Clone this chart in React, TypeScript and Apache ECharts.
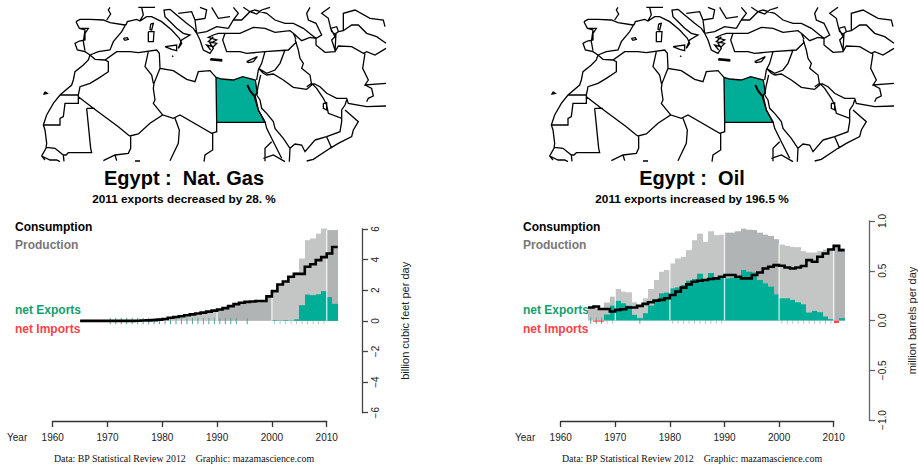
import React, { useEffect, useRef } from "react";
import * as echarts from "echarts";

const years = [1965,1966,1967,1968,1969,1970,1971,1972,1973,1974,1975,1976,1977,1978,1979,1980,1981,1982,1983,1984,1985,1986,1987,1988,1989,1990,1991,1992,1993,1994,1995,1996,1997,1998,1999,2000,2001,2002,2003,2004,2005,2006,2007,2008,2009,2010,2011];
const endYear = 2012;

const gasConsumption = [0,0,0,0,0,0,0,0,0,0,0.01,0.02,0.03,0.05,0.08,0.12,0.2,0.25,0.3,0.37,0.42,0.48,0.54,0.6,0.67,0.74,0.83,0.96,1.09,1.18,1.24,1.26,1.3,1.3,1.6,1.94,2.37,2.57,2.88,3.07,3.07,3.53,3.7,3.97,4.16,4.4,4.82];
const gasProduction = [0,0,0,0,0,0,0,0,0,0,0.01,0.02,0.03,0.05,0.08,0.12,0.2,0.25,0.3,0.37,0.42,0.48,0.54,0.6,0.67,0.74,0.83,0.96,1.09,1.18,1.24,1.26,1.3,1.3,1.6,1.98,2.39,2.61,2.9,3.17,4.07,5.27,5.38,5.7,6.03,5.93,5.93];
const gasExports = [0,0,0,0,0,0,0,0,0,0,0,0,0,0,0,0,0,0,0,0,0,0,0,0,0,0,0,0,0,0,0,0,0,0,0,0.04,0.02,0.04,0.02,0.1,1.02,1.72,1.68,1.74,1.94,1.55,1.11];
const gasImports: number[] = years.map(() => 0);
const gasRugExport = [1970,1971,1972,1973,1974,1975,1976,1977,1978,1979,1980,1981,1982,1983,1984,1985,1986,1987,1988,1989,1990,1991,1992,1993,1995];
const gasRugNeutral = [2000,2001,2002,2003,2004,2005,2006,2007,2008,2009];

const oilConsumption = [0.13,0.14,0.115,0.115,0.09,0.107,0.113,0.13,0.13,0.147,0.167,0.183,0.2,0.207,0.223,0.257,0.29,0.33,0.363,0.39,0.4,0.407,0.417,0.423,0.44,0.457,0.457,0.44,0.423,0.423,0.457,0.483,0.523,0.54,0.557,0.55,0.533,0.523,0.533,0.547,0.607,0.59,0.64,0.673,0.713,0.75,0.707];
const oilProduction = [0.11,0.12,0.11,0.18,0.24,0.317,0.29,0.283,0.183,0.157,0.223,0.317,0.407,0.49,0.507,0.573,0.623,0.64,0.707,0.807,0.873,0.79,0.897,0.857,0.863,0.883,0.883,0.897,0.923,0.913,0.91,0.883,0.863,0.85,0.817,0.763,0.75,0.74,0.737,0.697,0.683,0.683,0.697,0.713,0.723,0.733,0.723];
const oilExports = [0,0,0,0.06,0.15,0.197,0.173,0.15,0.057,0.023,0.073,0.15,0.207,0.273,0.28,0.323,0.333,0.357,0.4,0.417,0.47,0.413,0.477,0.43,0.43,0.423,0.43,0.44,0.507,0.49,0.483,0.407,0.373,0.34,0.263,0.223,0.223,0.207,0.183,0.163,0.08,0.097,0.083,0.04,0.013,0,0.023];
const oilImports = [0,-0.012,-0.012,0,0,0,0,0,0,0,0,0,0,0,0,0,0,0,0,0,0,0,0,0,0,0,0,0,0,0,0,0,0,0,0,0,0,0,0,0,0,0,0,0,0,-0.025,0];
const oilRugExport = [1965,1966,1967,1974];
const oilRugNeutral = [1968,1969,1980,1981,1982,1983,1984,1985,1986,1987,1988,1989,2000,2001,2002,2003,2004,2005,2006,2007,2008,2009];

const decades = [1970, 1980, 1990, 2000, 2010];
const darkDecades = [1990, 2010];
const xTickLabels = [1960, 1970, 1980, 1990, 2000, 2010];

const teal = "#00ad96";
const shadeDark = "#b1b4b4";
const shadeLight = "#c4c6c6";
const shadeEarly = "#bec0c0";

type Pt = [number, number];
const mapLines: Pt[][] = [
  // Iberia and west Europe
  [[228,65],[240,58],[270,58],[310,60],[330,68],[375,75]],
  [[378,72],[365,95],[340,125],[330,150],[295,155],[270,165]],
  [[228,65],[238,85],[265,85],[255,100],[255,120],[238,123],[225,130],[232,150],[255,155],[270,165]],
  [[238,85],[255,90],[250,125],[255,152]],
  [[330,22],[325,30],[332,42],[320,60]],
  [[378,75],[382,65],[410,58],[420,63],[440,50],[455,50],[485,65],[515,90],[538,115],[545,130],[535,145],[545,120],[570,105],[550,100],[530,85],[515,70],[495,50],[492,30],[510,28]],
  [[425,22],[430,45],[420,62]],
  [[415,22],[465,22]],
  // Balkans and Greece
  [[510,28],[530,45],[560,70],[580,85],[590,100],[600,120],[610,150],[630,160],[640,145],[630,130],[650,120],[625,112],[640,105],[655,100],[675,100]],
  [[535,40],[575,35],[585,60],[615,55],[620,30],[600,22]],
  [[585,60],[590,100],[620,95],[650,80],[685,85]],
  [[635,22],[655,55],[690,50]],
  [[640,110],[625,125],[650,130],[640,140],[620,135],[632,150]],
  [[700,22],[715,40],[700,60]],
  // Turkey, Black Sea, Caucasus
  [[675,100],[720,100],[760,82],[795,85],[825,97],[870,92],[880,100],[888,118]],
  [[675,100],[668,120],[680,155],[720,155],[740,160],[795,155],[865,150],[890,125]],
  [[685,85],[700,60],[725,60],[750,35],[765,30],[800,40],[825,60],[855,70],[880,70],[910,85],[935,105],[948,115]],
  [[730,22],[750,35],[770,42],[785,30],[810,22]],
  [[880,100],[905,122],[930,112],[948,115]],
  // Caspian, Central Asia
  [[930,22],[920,40],[925,60],[948,70],[965,105],[948,115],[948,135],[975,157],[1005,155],[1008,100]],
  [[990,22],[965,40],[985,55],[992,85],[1005,110],[995,120],[1005,150]],
  [[992,85],[1010,80],[1015,95],[1005,102],[995,95],[992,85]],
  [[1030,92],[1030,40],[1065,30],[1110,55],[1150,60],[1155,80]],
  [[1015,95],[1030,92],[1055,75],[1075,75],[1100,100],[1130,110],[1158,130]],
  [[1005,155],[1015,138],[1055,140],[1090,160],[1100,155],[1125,165],[1158,145]],
  [[1095,160],[1088,205],[1105,240],[1095,255],[1158,250]],
  [[1100,305],[1105,295],[1120,288],[1115,265],[1095,255]],
  [[940,250],[960,260],[980,280],[1010,295],[1040,295],[1045,310],[1100,320],[1158,318]],
  // Iraq, Levant
  [[885,118],[895,150],[900,175],[910,190],[905,205],[930,225],[935,255],[920,268]],
  [[855,150],[840,190],[825,210],[800,220],[775,205]],
  [[795,155],[785,190],[775,210],[770,240]],
  [[775,205],[790,220],[800,225],[820,222],[850,240],[880,262],[920,268]],
  [[782,225],[775,255],[770,285]],
  // Arabia
  [[770,285],[780,300],[785,325],[800,340],[820,365],[825,385],[850,415],[870,445],[868,485]],
  [[765,285],[775,330],[795,365],[800,385],[820,425],[845,475]],
  [[795,484],[795,445],[815,425]],
  [[790,475],[820,465],[855,485]],
  [[920,260],[935,250],[950,265],[970,295],[980,315],[985,340],[1025,355],[1025,330],[1035,315],[1040,300]],
  [[970,310],[980,308],[980,330],[970,325],[970,310]],
  [[1035,330],[1075,365],[1060,390],[1055,410],[1015,430],[990,445],[940,478],[920,483]],
  [[945,420],[980,410],[1020,395],[1025,365],[1025,355]],
  [[980,410],[995,445]],
  [[870,445],[885,432],[905,435],[915,455],[945,420]],
  // North Africa
  [[220,240],[215,255],[180,285],[160,310],[140,345],[130,375],[135,390],[140,430],[138,445],[125,468],[135,480]],
  [[180,285],[235,285],[235,310],[195,310],[190,350],[180,355],[180,375],[130,375]],
  [[235,285],[240,260],[270,250],[295,235],[325,215],[325,185],[315,180]],
  [[270,165],[285,178],[315,180],[350,155],[390,155],[415,158],[470,150],[478,160],[480,205],[520,212],[560,238],[585,245],[595,215],[630,212],[648,232]],
  [[270,165],[265,180],[250,195],[225,215],[220,240]],
  [[445,155],[435,200],[455,225],[460,250]],
  [[480,205],[462,250],[460,265],[465,300],[460,310],[480,335],[488,345]],
  [[235,290],[280,325],[355,380],[385,405],[390,408],[415,402],[450,370],[488,345],[520,355],[540,345],[635,400],[650,395],[650,367]],
  [[260,325],[285,325]],
  [[260,325],[272,445],[275,458],[205,458],[198,465],[190,465],[165,445],[140,442]],
  [[392,408],[392,445],[385,460],[345,465],[310,482]],
  [[525,355],[538,390],[535,430],[510,482]],
  [[638,400],[638,450],[615,465],[612,485]],
  [[345,465],[350,482]],
  [[190,465],[192,484]],
  [[125,468],[150,480],[170,480],[180,485]],
  [[405,483],[420,483]],
  // Islands
  [[135,275],[142,280],[132,282],[135,275]],
  [[495,140],[530,135],[530,152],[515,148],[495,140]],
  [[445,95],[462,95],[460,125],[445,125],[445,95]],
  [[452,72],[460,70],[455,90],[450,88],[452,72]],
  [[370,115],[382,113],[385,118],[375,121],[370,115]],
  [[632,176],[665,179],[665,183],[632,180],[632,176]],
  [[740,185],[772,170],[760,185],[745,188],[740,185]],
  [[516,167],[520,170]],
];
const egyptOutline: Pt[] = [[648,232],[665,237],[700,240],[728,230],[766,240],[772,280],[762,287],[775,330],[795,367],[650,367]];
const suezGulf: Pt[] = [[742,255],[750,272],[762,287]];

const mapPathData = mapLines
  .map((line) => line.map((p, i) => `${i === 0 ? "M" : "L"}${(p[0] / 3).toFixed(2)} ${(p[1] / 3).toFixed(2)}`).join(" "))
  .join(" ");
echarts.graphic.registerShape("mapOutline", echarts.graphic.extendPath(mapPathData, {}));

const mapOffsets = [0, 508];
const titles = ["Egypt :  Nat. Gas", "Egypt :  Oil"];
const subtitles = ["2011 exports decreased by 28. %", "2011 exports increased by 196.5 %"];
const footers = ["Data: BP Statistical Review 2012    Graphic: mazamascience.com", "Data: BP Statistical Review 2012    Graphic: mazamascience.com"];
const legendEntries = ["Consumption", "Production", "net Exports", "net Imports"];
const legendColors = ["#000000", "#777777", "#12a070", "#f8434a"];
const legendY = [227, 245, 310, 329];

function mapElements(dx: number) {
  const place = (points: Pt[]) => points.map((p) => [p[0] / 3 + dx, p[1] / 3]);
  return [
    { type: "polygon", z: 50, shape: { points: place(egyptOutline) }, style: { fill: teal, stroke: "#000", lineWidth: 1.3 } },
    { type: "polyline", z: 51, shape: { points: place(suezGulf) }, style: { fill: "none", stroke: "#000", lineWidth: 2 } },
    { type: "mapOutline", z: 52, x: dx, y: 0, style: { fill: "none", stroke: "#000", lineWidth: 1.3 } },
  ];
}

function textEl(text: string, x: number, y: number, size: number, color: string, weight: string, align: string, family = "'Liberation Sans', Arial, sans-serif") {
  return {
    type: "text",
    x,
    y,
    style: { text, fill: color, fontSize: size, fontWeight: weight, fontFamily: family, textAlign: align, textVerticalAlign: "middle" },
  };
}

function shade(year: number) {
  const decade = Math.floor(year / 10) * 10;
  if (darkDecades.includes(decade)) return shadeDark;
  if (decade === 1960) return shadeEarly;
  return shadeLight;
}

function barSeries(name: string, idx: number, values: number[], color: string | null, z: number) {
  return {
    name,
    type: "custom",
    xAxisIndex: idx,
    yAxisIndex: idx,
    z,
    silent: true,
    data: values.map((v, i) => [years[i], v]),
    renderItem: (_p: any, api: any) => {
      const y = api.value(0);
      const v = api.value(1);
      const a = api.coord([y, 0]);
      const b = api.coord([y + 1, v]);
      const fill = color ?? shade(y);
      const x0 = Math.round(a[0]);
      const x1 = Math.round(b[0]);
      return {
        type: "rect",
        shape: { x: x0, y: Math.min(a[1], b[1]), width: x1 - x0, height: Math.abs(b[1] - a[1]) },
        style: { fill },
      };
    },
  };
}

function rugSeries(idx: number, list: number[], color: string, z: number) {
  return {
    type: "custom",
    xAxisIndex: idx,
    yAxisIndex: idx,
    z,
    silent: true,
    data: list.map((y) => [y, 0]),
    renderItem: (_p: any, api: any) => {
      const p = api.coord([api.value(0) + 0.5, 0]);
      return { type: "line", shape: { x1: p[0], y1: p[1] - 3, x2: p[0], y2: p[1] + 3.4 }, style: { stroke: color, lineWidth: 1 } };
    },
  };
}

function decadeSeries(idx: number, tops: number[]) {
  return {
    type: "custom",
    xAxisIndex: idx,
    yAxisIndex: idx,
    z: 6,
    silent: true,
    data: decades.map((d) => [d, tops[years.indexOf(d)]]),
    renderItem: (_p: any, api: any) => {
      const a = api.coord([api.value(0), 0]);
      const b = api.coord([api.value(0), api.value(1)]);
      return { type: "line", shape: { x1: a[0], y1: a[1], x2: b[0], y2: b[1] }, style: { stroke: "rgba(255,255,255,0.75)", lineWidth: 1.4 } };
    },
  };
}

function stepLineSeries(idx: number, values: number[]) {
  return {
    type: "custom",
    xAxisIndex: idx,
    yAxisIndex: idx,
    z: 8,
    silent: true,
    data: values.map((v, i) => [years[i], v]),
    renderItem: (p: any, api: any) => {
      if (p.dataIndex !== 0) return null;
      const points: number[][] = [];
      values.forEach((v, i) => {
        points.push(api.coord([years[i], v]));
        points.push(api.coord([i + 1 < years.length ? years[i + 1] : endYear, v]));
      });
      return { type: "polyline", shape: { points }, style: { fill: "none", stroke: "#000", lineWidth: 2.6, lineJoin: "miter" } };
    },
  };
}

function panelSeries(idx: number, cons: number[], prod: number[], exp: number[], imp: number[], rugE: number[], rugN: number[]) {
  const tops = prod.map((p, i) => Math.max(p, cons[i]));
  return [
    barSeries("Production", idx, tops, null, 2),
    rugSeries(idx, rugE, "#55a596", 3),
    rugSeries(idx, rugN, "#c2c4c4", 3),
    barSeries("net Exports", idx, exp, teal, 4),
    barSeries("net Imports", idx, imp, "#f8434a", 4),
    decadeSeries(idx, tops),
    stepLineSeries(idx, cons),
  ];
}

const fontSans = "'Liberation Sans', Arial, sans-serif";

function xAxisFor(gridIndex: number, offset: number, color: string) {
  return {
    gridIndex,
    type: "value",
    min: 1960,
    max: 2010,
    interval: 10,
    offset,
    position: "bottom",
    splitLine: { show: false },
    axisLine: { show: true, onZero: false, lineStyle: { color, width: 1.3 } },
    axisTick: { show: true, length: 6, lineStyle: { color, width: 1.3 } },
    axisLabel: { show: true, color: "#222", fontSize: 10, fontFamily: fontSans, margin: 11, formatter: (v: number) => (xTickLabels.includes(v) ? String(v) : "") },
  };
}

function yAxisFor(gridIndex: number, min: number, max: number, interval: number, name: string, decimals: number, color: string) {
  return {
    gridIndex,
    type: "value",
    min,
    max,
    interval,
    position: "right",
    offset: 35.3,
    name,
    nameLocation: "middle",
    nameRotate: 90,
    nameGap: 37,
    nameTextStyle: { color: "#222", fontSize: 11, fontFamily: fontSans },
    splitLine: { show: false },
    axisLine: { show: true, onZero: false, lineStyle: { color, width: 1.3 } },
    axisTick: { show: true, length: 6, lineStyle: { color, width: 1.3 } },
    axisLabel: {
      show: true,
      rotate: 90,
      color: "#222",
      fontSize: 10,
      fontFamily: fontSans,
      margin: 8,
      formatter: (v: number) => v.toFixed(decimals).replace("-", "\u2212"),
    },
  };
}

export default function App() {
  const ref = useRef<HTMLDivElement>(null);
  useEffect(() => {
    const chart = echarts.init(ref.current!, undefined, { renderer: "svg", width: 918, height: 467 });
    const graphics: any[] = [];
    mapOffsets.forEach((dx, i) => {
      graphics.push(...mapElements(dx));
      graphics.push(textEl(titles[i], 184 + dx, 178, 20, "#000", "bold", "center"));
      graphics.push(textEl(subtitles[i], 184 + dx, 199, 11.8, "#000", "bold", "center"));
      graphics.push(textEl(footers[i], 184 + dx, 458, 9.9, "#111", "normal", "center", "'Liberation Serif', 'Times New Roman', serif"));
      graphics.push(textEl("Year", 7 + dx, 437, 10, "#222", "normal", "left"));
      legendEntries.forEach((t, j) => {
        graphics.push(textEl(t, 15 + dx, legendY[j], 12, legendColors[j], "bold", "left"));
      });
    });

    chart.setOption({
      animation: false,
      backgroundColor: "#fff",
      grid: [
        { left: 52.7, width: 274, top: 229, height: 183.7 },
        { left: 560.7, width: 274, top: 221, height: 199 },
      ],
      xAxis: [xAxisFor(0, 8.3, "#333"), xAxisFor(1, 1, "#333")],
      yAxis: [
        yAxisFor(0, -6, 6, 2, "billion cubic feet per day", 0, "#444"),
        yAxisFor(1, -1, 1, 0.5, "million barrels per day", 1, "#666"),
      ],
      series: [
        ...panelSeries(0, gasConsumption, gasProduction, gasExports, gasImports, gasRugExport, gasRugNeutral),
        ...panelSeries(1, oilConsumption, oilProduction, oilExports, oilImports, oilRugExport, oilRugNeutral),
      ],
      graphic: { elements: graphics },
    });
    return () => chart.dispose();
  }, []);
  return <div ref={ref} style={{ position: "fixed", left: 0, top: 0, width: 918, height: 467 }} />;
}
